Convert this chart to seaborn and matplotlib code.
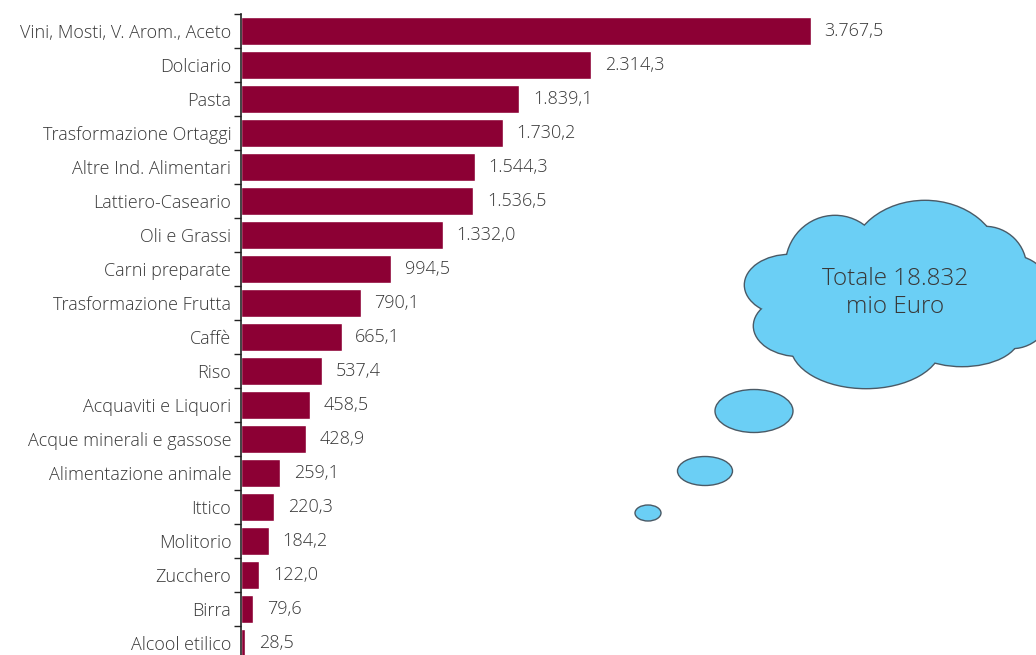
import matplotlib
matplotlib.use("Agg")
import matplotlib.pyplot as plt
from matplotlib.patches import Ellipse
from matplotlib.ticker import FixedLocator
import seaborn as sns
import pandas as pd

categories = [
    "Vini, Mosti, V. Arom., Aceto", "Dolciario", "Pasta", "Trasformazione Ortaggi",
    "Altre Ind. Alimentari", "Lattiero-Caseario", "Oli e Grassi", "Carni preparate",
    "Trasformazione Frutta", "Caffè", "Riso", "Acquaviti e Liquori",
    "Acque minerali e gassose", "Alimentazione animale", "Ittico", "Molitorio",
    "Zucchero", "Birra", "Alcool etilico",
]
values = [3767.5, 2314.3, 1839.1, 1730.2, 1544.3, 1536.5, 1332.0, 994.5, 790.1,
          665.1, 537.4, 458.5, 428.9, 259.1, 220.3, 184.2, 122.0, 79.6, 28.5]
total_label = "Totale 18.832\nmio Euro"

BAR = "#8C0034"
SKY = "#6BCFF5"
TXT = "#383838"
FONT = dict(family=["Open Sans", "DejaVu Sans"], weight="light")

sns.set_style("white")
plt.rcParams["font.family"] = ["Open Sans", "DejaVu Sans"]
plt.rcParams["font.weight"] = "light"


def it_fmt(v):
    s = f"{v:,.1f}"
    return s.replace(",", "X").replace(".", ",").replace("X", ".")


W, H = 1036, 655
fig = plt.figure(figsize=(W / 100, H / 100), dpi=100)

# main bar axes
ax_left, ax_top, slot = 241, 14, 34.0
n = len(categories)
ax = fig.add_axes([ax_left / W, 1 - (ax_top + slot * n) / H, 1 - ax_left / W, slot * n / H])
df = pd.DataFrame({"settore": categories, "valore": values})
sns.barplot(data=df, x="valore", y="settore", color=BAR, saturation=1, width=0.8, ax=ax)
ax.set_xlim(0, (W - ax_left) / 0.1513)
ax.set_ylim(n - 0.5, -0.5)
ax.set_xlabel("")
ax.set_ylabel("")
ax.set_xticks([])
for side in ("top", "right", "bottom"):
    ax.spines[side].set_visible(False)
ax.spines["left"].set_color("#222222")
ax.spines["left"].set_linewidth(1.2)
ax.tick_params(axis="y", which="major", left=False, length=0, pad=7, labelsize=13, labelcolor=TXT)
for lab in ax.get_yticklabels():
    lab.set_fontweight("light")
ax.yaxis.set_minor_locator(FixedLocator([i - 0.5 for i in range(n + 1)]))
ax.tick_params(axis="y", which="minor", left=True, length=5, width=1, color="#222222",
               direction="out")

for i, v in enumerate(values):
    ax.text(v + 90, i, it_fmt(v), va="center", ha="left", fontsize=13, color=TXT, **FONT)

# overlay in pixel coordinates for the thought cloud
ov = fig.add_axes([0, 0, 1, 1])
ov.set_xlim(0, W)
ov.set_ylim(H, 0)
ov.axis("off")

lobes = [
    (925, 262, 150, 122), (835, 266, 98, 100), (790, 285, 90, 60),
    (800, 326, 92, 60), (866, 345, 150, 86), (962, 336, 114, 60),
    (1012, 302, 84, 92), (985, 268, 82, 82), (890, 290, 200, 120),
]
for cx, cy, w, h in lobes:
    ov.add_patch(Ellipse((cx, cy), w, h, facecolor=SKY, edgecolor="#4a5a66", lw=2.0, zorder=2))
for cx, cy, w, h in lobes:
    ov.add_patch(Ellipse((cx, cy), w, h, facecolor=SKY, edgecolor="none", zorder=3))

for cx, cy, w, h in [(754, 411, 78, 43), (705, 471, 55, 29), (648, 513, 26, 16)]:
    ov.add_patch(Ellipse((cx, cy), w, h, facecolor=SKY, edgecolor="#4a5a66", lw=1.0, zorder=2))

ov.text(895, 293, total_label, ha="center", va="center", fontsize=17.5,
        color=TXT, linespacing=1.25, zorder=4, **FONT)

fig.savefig("out.png", dpi=100)
